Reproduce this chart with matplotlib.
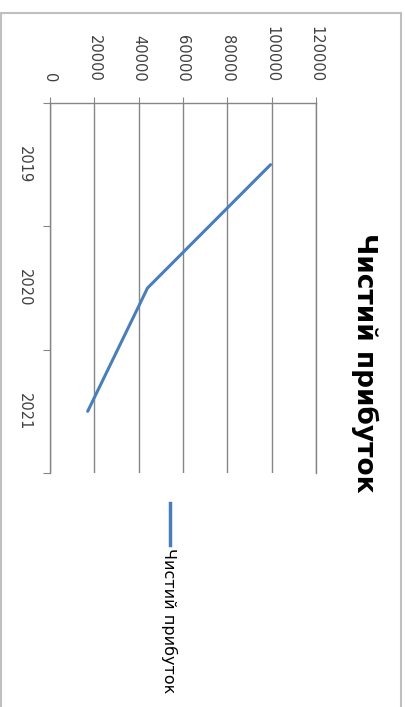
import numpy as np
import matplotlib.pyplot as plt
from matplotlib.lines import Line2D
from matplotlib.patches import Rectangle

# Чистий прибуток по роках
years = ['2019', '2020', '2021']
profit = [99500, 44000, 17000]
value_ticks = [0, 20000, 40000, 60000, 80000, 100000, 120000]

W, H = 406, 707
fig = plt.figure(figsize=(W / 100, H / 100), dpi=100)
fig.patch.set_facecolor('white')

def px(x, y):
    # pixel coordinates (top-left origin) -> figure fraction
    return x / W, 1 - y / H

# outer frame of the chart
fig.patches.append(Rectangle(px(1.5, 720), (401 - 1.5) / W, (720 - 13) / H,
                             transform=fig.transFigure, fill=False,
                             edgecolor='#bfbfbf', lw=1.5))

# plot area (sheet is turned on its side: values run left->right along the top)
left, top, right, bottom = 50, 103, 316, 473
ax = fig.add_axes([left / W, 1 - bottom / H, (right - left) / W, (bottom - top) / H])

ypos = np.arange(len(years)) + 0.5
ax.plot(profit, ypos, color='#4a7ebb', lw=2.2, solid_capstyle='round')

ax.set_xlim(0, 120000)
ax.set_ylim(len(years), 0)

grey = '#868686'
txt = '#404040'

ax.xaxis.tick_top()
ax.set_xticks(value_ticks)
ax.set_xticklabels([str(v) for v in value_ticks], rotation=-90,
                   fontsize=10.5, color=txt, va='bottom', ha='center')
ax.tick_params(axis='x', direction='out', length=4, color=grey, pad=11)
ax.grid(axis='x', color=grey, lw=1.0)
ax.grid(axis='y', visible=False)

ax.set_yticks(np.arange(len(years) + 1))
ax.set_yticklabels([])
ax.set_yticks(ypos, minor=True)
ax.set_yticklabels(years, minor=True, rotation=-90, fontsize=10.5,
                   color=txt, va='center', ha='right')
ax.tick_params(axis='y', which='major', direction='out', length=5, color=grey)
ax.tick_params(axis='y', which='minor', length=0, pad=13)

ax.spines['bottom'].set_visible(False)
for s in ['top', 'left', 'right']:
    ax.spines[s].set_color(grey)
    ax.spines[s].set_linewidth(1.0)

# title
tx, ty = px(365, (230 + 495) / 2)
fig.text(tx, ty, 'Чистий прибуток', rotation=-90, fontsize=19,
         fontweight='bold', color='black', ha='center', va='center')

# legend
lx0, ly0 = px(170, 503)
lx1, ly1 = px(170, 545)
fig.lines.append(Line2D([lx0, lx1], [ly0, ly1], transform=fig.transFigure,
                        color='#4a7ebb', lw=2.5))
ltx, lty = px(169, 548)
fig.text(ltx, lty, 'Чистий прибуток', rotation=-90, fontsize=11.5,
         color='black', ha='center', va='top')

fig.savefig('out.png', dpi=100)
